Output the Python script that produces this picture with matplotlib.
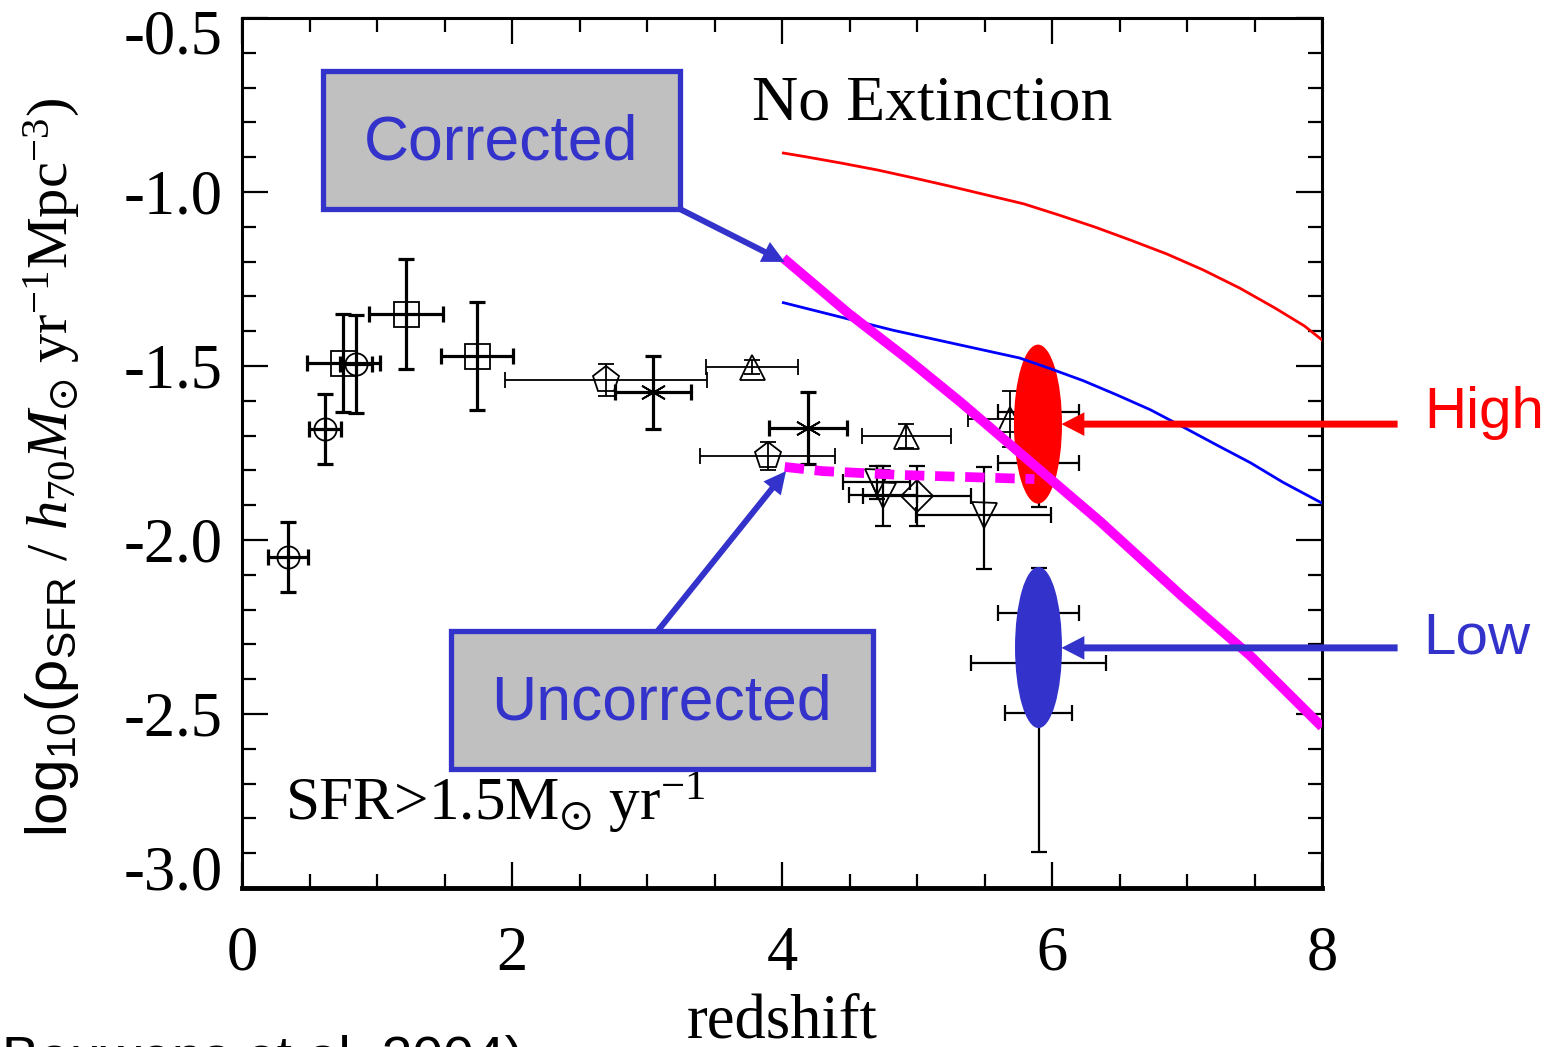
import numpy as np
import matplotlib
matplotlib.use('Agg')
import matplotlib.pyplot as plt
from matplotlib.patches import Ellipse, Rectangle
from matplotlib.ticker import MultipleLocator
from matplotlib.transforms import ScaledTranslation

plt.rcParams['axes.unicode_minus'] = False
plt.rcParams['mathtext.fontset'] = 'custom'
plt.rcParams['mathtext.rm'] = 'Liberation Serif'
plt.rcParams['mathtext.it'] = 'Liberation Serif:italic'
plt.rcParams['mathtext.sf'] = 'Liberation Sans'
plt.rcParams['mathtext.fallback'] = 'stix'

SERIF = ['Liberation Serif', 'DejaVu Serif']
SANS = ['Liberation Sans', 'DejaVu Sans']
BLUE = '#3333CC'

# model curves, no extinction
z_high = [4.01, 4.18, 4.44, 4.71, 4.98, 5.24, 5.52, 5.79, 6.05, 6.32, 6.58,
          6.85, 7.12, 7.39, 7.65, 7.87, 8.0]
sfr_high = [-0.888, -0.899, -0.917, -0.937, -0.960, -0.983, -1.009, -1.034, -1.066,
            -1.101, -1.138, -1.178, -1.224, -1.276, -1.333, -1.385, -1.425]
z_low = [4.01, 4.82, 5.76, 5.99, 6.23, 6.48, 6.73, 6.97, 7.22, 7.47, 7.71, 8.0]
sfr_low = [-1.318, -1.397, -1.477, -1.508, -1.542, -1.583, -1.626, -1.675, -1.727,
           -1.778, -1.834, -1.894]
# corrected / uncorrected observed estimate
z_corr = [4.01, 4.49, 4.93, 5.32, 5.91, 6.36, 6.97, 7.47, 8.0]
sfr_corr = [-1.190, -1.348, -1.480, -1.603, -1.799, -1.948, -2.164, -2.333, -2.537]
z_uncorr = [4.02, 4.30, 4.87, 5.87]
sfr_uncorr = [-1.790, -1.802, -1.813, -1.825]

# literature points
circ_z = [0.34, 0.615, 0.844]
circ_y = [-2.049, -1.681, -1.494]
circ_xerr = [0.15, 0.12, 0.12]
circ_yerr = [0.10, 0.10, 0.14]

sq_z = [0.75, 1.215, 1.741]
sq_y = [-1.491, -1.351, -1.471]
sq_xerr = [0.27, 0.275, 0.27]
sq_yerr = [0.14, 0.158, 0.155]

pent_z = [2.696, 3.896]
pent_y = [-1.540, -1.759]
pent_xerr = [0.75, 0.5]
pent_yerr = [0.045, 0.04]

ast_z = [3.044, 4.193]
ast_y = [-1.575, -1.678]
ast_xerr = [0.28, 0.29]
ast_yerr = [0.105, 0.103]

tri_z = [3.778, 4.919, 5.69]
tri_y = [-1.503, -1.701, -1.652]
tri_xerr = [0.34, 0.33, 0.31]
tri_yerr = [0.02, 0.035, 0.08]

itri_z = [4.70, 4.748, 5.496]
itri_y = [-1.833, -1.871, -1.928]
itri_xerr = [0.25, 0.25, 0.5]
itri_yerr_lo = [0.05, 0.089, 0.155]
itri_yerr_hi = [0.046, 0.084, 0.138]

dia_z = [5.0]
dia_y = [-1.874]
dia_xerr = [0.4]
dia_yerr = [0.087]

hid_z = [5.9, 5.9]
hid_y = [-1.632, -1.779]
hid_xerr = [0.3, 0.3]
hid_yerr = [0.08, 0.126]

low_z = [5.9, 5.9, 5.9]
low_y = [-2.210, -2.353, -2.497]
low_xerr = [0.3, 0.5, 0.25]
low_yerr_lo = [0.1, 0.1, 0.40]
low_yerr_hi = [0.13, 0.1, 0.1]

# z~6 estimates (High / Low)
high_z, high_y, high_dz, high_dy = 5.896, -1.667, 0.356, 0.457
lowest_z, lowest_y, lowest_dz, lowest_dy = 5.9, -2.309, 0.348, 0.463

fig = plt.figure(figsize=(15.51, 10.47), dpi=100)
ax = fig.add_axes([242 / 1551, 1 - 888 / 1047, 1080 / 1551, 870 / 1047])


def points(z, y, xerr, yerr, marker, ms, lw):
    ax.errorbar(z, y, xerr=xerr, yerr=yerr, fmt='none', ecolor='black',
                elinewidth=lw, capsize=6, capthick=lw, zorder=2)
    ax.plot(z, y, linestyle='none', marker=marker, ms=ms, mfc='none',
            mec='black', mew=1.3, zorder=2)


points(circ_z, circ_y, circ_xerr, circ_yerr, 'o', 16, 2.3)
points(sq_z, sq_y, sq_xerr, sq_yerr, 's', 18, 2.3)
points(pent_z, pent_y, pent_xerr, pent_yerr, 'p', 20, 1.3)
points(ast_z, ast_y, ast_xerr, ast_yerr, (6, 2, 0), 19, 2.3)
points(tri_z, tri_y, tri_xerr, tri_yerr, '^', 18, 1.3)
points(itri_z, itri_y, itri_xerr, [itri_yerr_lo, itri_yerr_hi], 'v', 18, 1.6)
points(dia_z, dia_y, dia_xerr, dia_yerr, 'D', 16, 1.6)
points(hid_z, hid_y, hid_xerr, hid_yerr, 'o', 14, 1.6)
points(low_z, low_y, low_xerr, [low_yerr_lo, low_yerr_hi], 'o', 14, 1.6)

ax.add_patch(Ellipse((high_z, high_y), high_dz, high_dy, color='#FF0000', lw=0, zorder=3))
ax.add_patch(Ellipse((lowest_z, lowest_y), lowest_dz, lowest_dy, color=BLUE, lw=0, zorder=3))

ax.plot(z_high, sfr_high, color='#FF0000', lw=2, zorder=4)
ax.plot(z_low, sfr_low, color='#0000FF', lw=2, zorder=4)
ax.plot(z_corr, sfr_corr, color='#FF00FF', lw=7, solid_capstyle='butt', zorder=4)
ax.plot(z_uncorr, sfr_uncorr, color='#FF00FF', lw=7, dashes=(2.0, 1.1), zorder=4)

ax.set_xlim(0, 8)
ax.set_ylim(-3.0, -0.5)
ax.set_xticks([0, 2, 4, 6, 8])
ax.set_yticks([-3.0, -2.5, -2.0, -1.5, -1.0, -0.5])
ax.set_yticklabels(['-3.0', '-2.5', '-2.0', '-1.5', '-1.0', '-0.5'])
ax.xaxis.set_minor_locator(MultipleLocator(0.5))
ax.yaxis.set_minor_locator(MultipleLocator(0.1))
ax.tick_params(which='both', direction='in', top=True, right=True, width=1.6,
               labelsize=45, labelfontfamily=SERIF)
ax.tick_params(which='major', length=19)
ax.tick_params(which='minor', length=10)
ax.tick_params(axis='x', pad=27)
ax.tick_params(axis='y', pad=14)
for s in ax.spines.values():
    s.set_linewidth(2.2)
ax.spines['bottom'].set_linewidth(3.5)

yt = ax.yaxis.get_major_ticks()
yt[-1].label1.set_transform(yt[-1].label1.get_transform() +
                            ScaledTranslation(0, -0.14, fig.dpi_scale_trans))
yt[0].label1.set_transform(yt[0].label1.get_transform() +
                           ScaledTranslation(0, 0.20, fig.dpi_scale_trans))

ax.set_xlabel('redshift', fontsize=45, family=SERIF, labelpad=7)
fig.text(52 / 1551, 1 - 467 / 1047,
         r'$\mathsf{log_{10}(\rho_{SFR}}$ / $h_{70}M_{\odot}$ yr$^{-1}$Mpc$^{-3}$)',
         rotation=90, ha='center', va='center', fontsize=42, family=SERIF)

ax.text(0.4726, 0.9, 'No Extinction', transform=ax.transAxes, fontsize=46,
        family=SERIF, ha='left', va='center')
ax.text(0.0398, 0.078, r'SFR>1.5M$_{\odot}$ yr$^{-1}$', transform=ax.transAxes,
        fontsize=44, family=SERIF, ha='left', va='baseline')

# labelled boxes
boxes = [((323, 71, 680, 209), 'Corrected'), ((451, 631, 873, 769), 'Uncorrected')]
for (x0, y0, x1, y1), label in boxes:
    fig.patches.append(Rectangle((x0 / 1551, 1 - y1 / 1047), (x1 - x0) / 1551,
                                 (y1 - y0) / 1047, transform=fig.transFigure,
                                 facecolor='#C0C0C0', edgecolor=BLUE, lw=3.8, zorder=5))
    fig.text((x0 + x1) / 2 / 1551, 1 - (y0 + y1 + 6) / 2 / 1047, label, color=BLUE,
             fontsize=45, family=SANS, ha='center', va='center', zorder=6)

arrow_big = 'simple,head_length=16,head_width=16,tail_width=4.3'
ax.annotate('', xy=(4.02, -1.201), xytext=(3.244, -1.049), annotation_clip=False,
            arrowprops=dict(arrowstyle=arrow_big, mutation_scale=1, color=BLUE, lw=0,
                            shrinkA=0, shrinkB=0), zorder=6)
ax.annotate('', xy=(4.03, -1.802), xytext=(3.08, -2.261), annotation_clip=False,
            arrowprops=dict(arrowstyle=arrow_big, mutation_scale=1, color=BLUE, lw=0,
                            shrinkA=0, shrinkB=0), zorder=6)

arrow_side = 'simple,head_length=16.5,head_width=17,tail_width=5'
ax.annotate('', xy=(6.07, -1.667), xytext=(8.56, -1.667), annotation_clip=False,
            arrowprops=dict(arrowstyle=arrow_side, mutation_scale=1, color='#FF0000',
                            lw=0, shrinkA=0, shrinkB=0), zorder=6)
ax.annotate('', xy=(6.07, -2.310), xytext=(8.56, -2.310), annotation_clip=False,
            arrowprops=dict(arrowstyle=arrow_side, mutation_scale=1, color=BLUE,
                            lw=0, shrinkA=0, shrinkB=0), zorder=6)
fig.text(1424 / 1551, 1 - 413 / 1047, 'High', color='#FF0000', fontsize=42,
         family=SANS, ha='left', va='center')
fig.text(1423 / 1551, 1 - 638 / 1047, 'Low', color=BLUE, fontsize=42,
         family=SANS, ha='left', va='center')

# citation line, partly cut off at the bottom edge as in the original slide
fig.text(2 / 1551, 1 - 1035 / 1047, 'Bouwens et al. 2004)', fontsize=40,
         family=SANS, ha='left', va='top')

fig.savefig('out.png', dpi=100)
